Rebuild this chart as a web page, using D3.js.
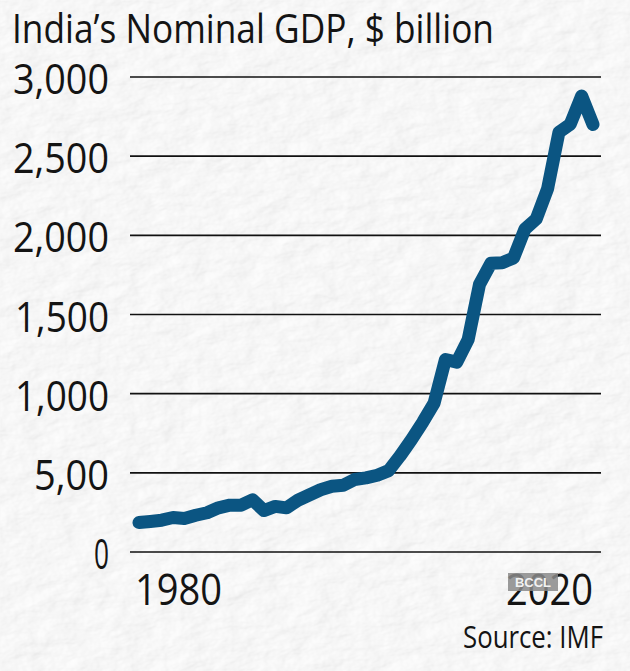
<!DOCTYPE html>
<html>
<head>
<meta charset="utf-8">
<script src="https://cdn.jsdelivr.net/npm/d3@7"></script>
<style>
  html, body { margin: 0; padding: 0; background: #ededed; }
  svg { display: block; }
  text { font-family: "Open Sans", "Noto Sans", sans-serif; fill: #141414; }
</style>
</head>
<body>
<div id="chart"></div>
<script>
// India's nominal GDP, $ billion (IMF)
const years = d3.range(1980, 2021);
const gdp = [186, 193, 201, 218, 212, 232, 248, 279, 296, 296,
             330, 262, 288, 279, 327, 360, 393, 415, 421, 458,
             468, 485, 514, 607, 709, 820, 940, 1216, 1199, 1341,
             1690, 1823, 1827, 1857, 2039, 2103, 2294, 2651, 2702, 2880,
             2700];
const yTicks = [0, 500, 1000, 1500, 2000, 2500, 3000];
const yTickLabels = ['0', '5,00', '1,000', '1,500', '2,000', '2,500', '3,000'];
const xLabels = [1980, 2020];

const width = 630;
const height = 671;

const svg = d3.select('#chart')
  .append('svg')
  .attr('width', width)
  .attr('height', height);

// paper texture
const defs = svg.append('defs');
const paper = defs.append('filter')
  .attr('id', 'paper')
  .attr('x', 0).attr('y', 0)
  .attr('width', '100%').attr('height', '100%');
paper.append('feTurbulence')
  .attr('type', 'fractalNoise')
  .attr('baseFrequency', '0.03 0.06')
  .attr('numOctaves', 4)
  .attr('seed', 7)
  .attr('result', 'noise');
paper.append('feDiffuseLighting')
  .attr('in', 'noise')
  .attr('lighting-color', '#ffffff')
  .attr('surfaceScale', 2.2)
  .attr('result', 'lit')
  .append('feDistantLight')
  .attr('azimuth', 200)
  .attr('elevation', 55);
const ct = paper.append('feComponentTransfer').attr('in', 'lit');
['R', 'G', 'B'].forEach(c => {
  ct.append('feFunc' + c).attr('type', 'linear').attr('slope', 0.45).attr('intercept', 0.56);
});

svg.append('rect')
  .attr('width', width)
  .attr('height', height)
  .attr('fill', '#ededed')
  .attr('filter', 'url(#paper)');

const x = d3.scaleLinear()
  .domain([1980, 2020])
  .range([139, 593]);

const y = d3.scaleLinear()
  .domain([0, 3000])
  .range([552, 77]);

// fit a text element to a measured width (condensed face)
function fit(sel, w) {
  sel.each(function() {
    d3.select(this).attr('textLength', w).attr('lengthAdjust', 'spacingAndGlyphs');
  });
}

// title
svg.append('text')
  .attr('x', 12)
  .attr('y', 43)
  .style('font-size', '41px')
  .text('India\u2019s Nominal GDP, $ billion')
  .call(fit, 482);

// gridlines
svg.append('g')
  .selectAll('line')
  .data(yTicks)
  .join('line')
  .attr('x1', 130)
  .attr('x2', 601)
  .attr('y1', d => y(d))
  .attr('y2', d => y(d))
  .attr('stroke', '#111')
  .attr('stroke-width', 1.6);

// y labels
const labelWidths = { '0': 15, '5,00': 75, '1,000': 94, '1,500': 94, '2,000': 96, '2,500': 96, '3,000': 96 };
svg.append('g')
  .selectAll('text')
  .data(yTicks)
  .join('text')
  .attr('x', 109)
  .attr('y', d => y(d) + 17)
  .attr('text-anchor', 'end')
  .style('font-size', '42px')
  .text((d, i) => yTickLabels[i])
  .each(function(d, i) {
    d3.select(this).attr('textLength', labelWidths[yTickLabels[i]]).attr('lengthAdjust', 'spacingAndGlyphs');
  });

// x labels
svg.append('text')
  .attr('x', 135)
  .attr('y', 605)
  .style('font-size', '43px')
  .text(xLabels[0])
  .call(fit, 87);

svg.append('text')
  .attr('x', 593)
  .attr('y', 605)
  .attr('text-anchor', 'end')
  .style('font-size', '43px')
  .text(xLabels[1])
  .call(fit, 87);

// the line
const line = d3.line()
  .x((d, i) => x(years[i]))
  .y(d => y(d));

svg.append('path')
  .datum(gdp)
  .attr('d', line)
  .attr('fill', 'none')
  .attr('stroke', '#0b5582')
  .attr('stroke-width', 13)
  .attr('stroke-linecap', 'round')
  .attr('stroke-linejoin', 'round');

// watermark
svg.append('rect')
  .attr('x', 508)
  .attr('y', 573)
  .attr('width', 50)
  .attr('height', 18)
  .attr('fill', '#8a8a8a')
  .attr('opacity', 0.85);
svg.append('text')
  .attr('x', 533)
  .attr('y', 587)
  .attr('text-anchor', 'middle')
  .style('font-family', 'Liberation Sans, Arial, sans-serif')
  .style('font-size', '13px')
  .style('font-weight', 'bold')
  .style('fill', '#f2f2f2')
  .text('BCCL');

// source
svg.append('text')
  .attr('x', 603)
  .attr('y', 648)
  .attr('text-anchor', 'end')
  .style('font-size', '31px')
  .text('Source: IMF')
  .call(fit, 140);
</script>
</body>
</html>
